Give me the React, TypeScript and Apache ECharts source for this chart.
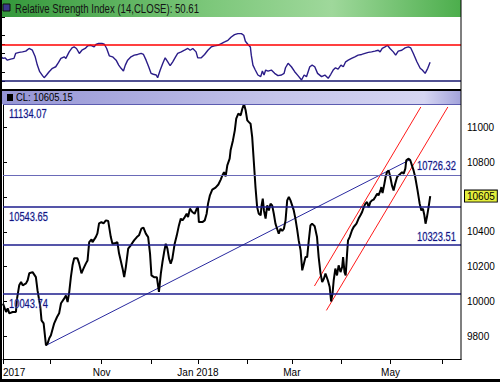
import React, { useEffect, useRef } from 'react';
import * as echarts from 'echarts';

// x positions are trading days counted from 1 Sep 2017
const priceDays = [
  0.0, 1.3, 2.0, 2.7, 4.1, 5.5, 6.0, 6.9, 7.7, 8.4, 9.8, 10.5, 11.2, 12.6, 14.0, 14.7, 15.9, 16.4, 17.3, 18.3,
  19.0, 19.7, 20.4, 21.8, 23.0, 23.9, 24.7, 26.1, 26.8, 27.5, 28.2, 28.9, 29.6, 30.3, 31.7, 32.4, 33.4, 34.3, 35.3, 36.0,
  36.7, 37.7, 38.1, 39.5, 40.2, 40.9, 41.9, 42.8, 43.8, 44.8, 45.9, 46.6, 48.0, 48.7, 49.4, 50.9, 51.6, 52.3, 53.3, 54.4,
  55.8, 57.0, 57.9, 58.9, 59.8, 60.8, 61.8, 62.6, 63.2, 64.3, 65.5, 66.4, 67.2, 67.9, 68.6, 69.3, 70.0, 70.7, 71.4, 72.1,
  73.1, 74.0, 74.9, 75.7, 76.4, 77.4, 78.2, 78.8, 79.6, 80.6, 81.6, 82.5, 83.0, 83.4, 84.9, 85.9, 86.7, 87.3, 88.1, 89.1,
  90.5, 91.7, 92.7, 93.4, 94.1, 94.8, 95.5, 96.5, 96.9, 97.9, 98.7, 99.3, 100.2, 101.2, 101.9, 102.6, 103.3, 104.0, 104.7, 105.4,
  106.1, 106.8, 107.5, 108.2, 108.9, 109.7, 110.1, 110.6, 111.1, 111.8, 112.5, 113.2, 113.9, 114.6, 115.3, 116.0, 116.7, 117.4, 118.2, 118.9,
  119.6, 120.3, 121.0, 121.7, 122.4, 123.1, 123.8, 124.5, 125.3, 125.9, 126.7, 127.4, 128.1, 128.8, 129.5, 130.2, 130.9, 131.6, 132.7, 133.7,
  134.4, 135.2, 135.9, 136.6, 137.3, 138.3, 139.1, 139.7, 140.3, 140.8, 141.5, 142.2, 142.9, 143.7, 144.4, 144.8, 145.4, 145.9, 146.5, 146.9,
  147.6, 148.6, 149.3, 150.5, 151.4, 152.2, 152.9, 153.6, 154.3, 155.0, 155.7, 156.4, 157.1, 157.8, 158.5, 159.3, 159.9, 160.7, 161.1, 161.6,
  162.4, 162.9, 163.5, 164.2, 164.9, 165.6, 166.3, 167.0, 167.8, 168.4, 169.2, 169.9, 170.6, 171.3, 171.7, 172.7, 173.4, 174.1, 174.8, 175.5,
  176.5, 177.4, 178.1, 178.8, 179.4, 179.9, 180.5, 181.2, 181.9,
];
const priceClose = [
  9988, 9940, 9961, 9932, 9940, 9940, 10018, 10093, 10112, 10093, 10104, 10122, 10162, 10169, 10140, 10064, 9968, 9892, 9875, 9748,
  9760, 9789, 9806, 9875, 9911, 9932, 9990, 10018, 10035, 9997, 10054, 10140, 10208, 10248, 10248, 10219, 10162, 10190, 10219, 10236,
  10341, 10357, 10341, 10370, 10391, 10449, 10456, 10449, 10466, 10462, 10370, 10332, 10336, 10341, 10277, 10190, 10140, 10198, 10304, 10323,
  10351, 10370, 10380, 10418, 10424, 10390, 10370, 10275, 10150, 10140, 10140, 10055, 10160, 10227, 10284, 10332, 10304, 10246, 10217, 10246,
  10332, 10380, 10437, 10476, 10466, 10485, 10504, 10485, 10533, 10514, 10504, 10533, 10542, 10456, 10456, 10466, 10504, 10562, 10610, 10642,
  10654, 10672, 10700, 10724, 10743, 10719, 10782, 10820, 10868, 10925, 10983, 11050, 11079, 11069, 11107, 11134.07, 11098, 11040, 11030, 11021,
  10944, 10801, 10657, 10542, 10504, 10495, 10552, 10591, 10523, 10476, 10552, 10523, 10562, 10552, 10504, 10447, 10418, 10390, 10418, 10405,
  10418, 10466, 10581, 10600, 10581, 10552, 10523, 10476, 10409, 10351, 10294, 10179, 10217, 10255, 10255, 10351, 10437, 10447, 10432, 10370,
  10255, 10160, 10112, 10131, 10160, 10122, 10083, 10000, 10045, 10122, 10189, 10150, 10208, 10169, 10198, 10255, 10169, 10150, 10275, 10351,
  10370, 10409, 10428, 10447, 10476, 10495, 10514, 10542, 10562, 10571, 10542, 10571, 10581, 10585, 10600, 10619, 10610, 10638, 10657, 10623,
  10677, 10715, 10743, 10753, 10715, 10667, 10638, 10677, 10715, 10724, 10734, 10743, 10734, 10763, 10811, 10820, 10811, 10782, 10753, 10715,
  10638, 10562, 10523, 10533, 10495, 10447, 10485, 10542, 10605.15,
];

const rsiDays = [
  0.0, 0.9, 1.7, 2.7, 4.1, 5.5, 6.2, 7.7, 9.1, 10.5, 11.9, 13.3, 14.5, 15.4, 16.4, 17.6, 18.3, 19.3, 20.4, 21.8,
  23.2, 24.4, 25.4, 26.8, 27.5, 28.9, 30.1, 31.0, 32.0, 33.2, 34.3, 35.7, 36.7, 38.1, 39.5, 40.2, 41.4, 42.8, 43.8, 44.8,
  45.9, 47.3, 48.8, 49.9, 50.9, 51.9, 52.7, 53.7, 55.1, 56.5, 57.9, 59.4, 60.4, 61.5, 62.6, 63.6, 64.6, 65.8, 66.4, 67.5,
  68.6, 69.6, 70.7, 71.7, 72.8, 74.0, 74.9, 76.4, 77.8, 79.2, 80.2, 81.3, 82.7, 83.4, 84.9, 86.3, 87.7, 89.1, 90.5, 91.9,
  93.4, 94.8, 96.2, 97.6, 99.0, 100.4, 101.9, 102.9, 103.6, 104.7, 105.7, 106.1, 106.8, 107.8, 108.9, 110.1, 110.8, 111.5, 112.2, 113.2,
  114.6, 116.0, 117.4, 118.9, 120.0, 120.6, 121.7, 123.1, 124.5, 125.9, 127.4, 128.5, 129.5, 130.9, 131.9, 133.0, 134.2, 135.9, 137.3, 138.7,
  139.8, 140.8, 141.8, 142.9, 144.1, 145.1, 146.1, 147.2, 148.6, 150.0, 151.4, 152.9, 154.3, 155.7, 157.1, 158.5, 159.9, 160.7, 161.6, 162.8,
  163.8, 164.9, 166.3, 167.3, 168.4, 169.9, 171.3, 172.7, 173.7, 174.8, 176.3, 177.7, 178.6, 179.8, 180.9, 181.9,
];
const rsiValues = [
  56.6, 54.9, 55.5, 53.0, 54.1, 54.9, 60.3, 61.4, 62.0, 62.8, 65.7, 63.8, 56.6, 47.6, 40.4, 36.1, 33.9, 36.8, 40.4, 44.1,
  45.8, 50.5, 54.9, 56.6, 54.9, 62.0, 66.3, 67.4, 65.7, 60.3, 63.8, 65.7, 68.5, 69.2, 67.4, 70.0, 71.1, 71.1, 70.3, 65.7,
  57.7, 56.6, 53.0, 47.6, 44.1, 41.1, 47.6, 53.0, 56.6, 58.4, 59.2, 60.3, 59.2, 53.0, 45.8, 38.6, 37.6, 36.8, 33.9, 42.2,
  49.5, 55.5, 51.2, 46.9, 51.2, 56.6, 60.3, 62.0, 63.8, 65.7, 63.8, 65.7, 62.0, 55.5, 55.5, 59.2, 63.8, 67.4, 68.5, 69.2,
  71.1, 72.8, 74.6, 78.2, 80.8, 81.9, 81.9, 80.1, 73.6, 70.0, 67.4, 58.4, 47.6, 42.2, 36.8, 35.0, 41.1, 36.8, 42.2, 41.1,
  42.2, 38.6, 36.1, 36.8, 38.6, 44.7, 49.5, 45.8, 40.4, 36.1, 31.4, 36.8, 35.0, 45.8, 47.6, 45.8, 38.6, 35.0, 36.8, 33.2,
  37.6, 42.2, 44.7, 43.3, 47.6, 45.8, 51.2, 53.0, 54.9, 56.6, 58.4, 59.2, 60.3, 61.4, 62.0, 62.8, 63.8, 62.0, 65.7, 67.4,
  69.2, 65.7, 62.0, 58.4, 62.8, 63.8, 66.3, 67.4, 66.3, 60.3, 51.2, 44.1, 42.2, 38.6, 44.1, 50.61,
];

const monthTickDays = [0, 20, 42, 63, 83, 104, 123, 144, 165, 187];
const monthLabelDays = [0, 42, 83, 123, 165];
const monthLabels = ['2017', 'Nov', 'Jan 2018', 'Mar', 'May'];
const priceTickValues = [9800, 10000, 10200, 10400, 10600, 10800, 11000];
const priceLabelValues = [9800, 10000, 10200, 10400, 10800, 11000];
const rsiTickValues = [30, 40, 60, 70, 80, 100];
const rsiLevels = [70, 30];
const priceLevels = [11134.07, 10726.32, 10543.65, 10323.51, 10043.74];
const lastClose = 10605.15;
const lastRsi = 50.61;
const trendDays = [18.3, 173.4];
const trendValues = [9748, 10815];
const channelUpperDays = [132.6, 177.9];
const channelUpperValues = [10089, 11117];
const channelLowerDays = [137.7, 189.4];
const channelLowerValues = [9949, 11117];

const zip = (a: number[], b: number[]) => a.map((v, i) => [v, b[i]]);

const FONT = 'Liberation Sans, Arial, sans-serif';

export default function App() {
  const ref = useRef<HTMLDivElement>(null);
  useEffect(() => {
    if (!ref.current) return;
    const chart = echarts.init(ref.current, undefined, { renderer: 'svg' });
    // label side: 'left' = under the line at the left, 'right' = above the line at the right
    const levelLook = [
      { side: 'left', color: '#5c5cb0', width: 1 },
      { side: 'right', color: '#6a6ab8', width: 1 },
      { side: 'left', color: '#1c1c8c', width: 1.5 },
      { side: 'right', color: '#1c1c8c', width: 1.5 },
      { side: 'left', color: '#1c1c8c', width: 1.5 },
    ];
    const levelData: any[] = priceLevels.map((v, i) => ({
      yAxis: v,
      lineStyle: { color: levelLook[i].color, width: levelLook[i].width, type: 'solid' },
      label: { show: false },
    }));
    levelData.push({
      yAxis: lastClose,
      lineStyle: { color: 'rgba(0,0,0,0)', width: 0 },
      label: {
        show: true,
        position: 'end',
        formatter: String(Math.round(lastClose)),
        distance: 4,
        color: '#000',
        fontSize: 10,
        fontFamily: FONT,
        backgroundColor: '#e4ee3c',
        borderColor: '#000',
        borderWidth: 1,
        padding: [1, 2, 0, 2],
      },
    });

    const baseGraphics: any[] = [
      {
        type: 'rect', shape: { x: 0, y: 0, width: 461, height: 17 }, z: 10,
        style: {
          fill: new echarts.graphic.LinearGradient(0, 0, 1, 0, [
            { offset: 0, color: '#33973a' },
            { offset: 0.45, color: '#7cc77a' },
            { offset: 0.72, color: '#9fd89b' },
            { offset: 1, color: '#4cae4c' },
          ]),
        },
      },
      {
        type: 'rect', shape: { x: 3, y: 4, width: 7, height: 7 }, z: 11,
        style: { fill: '#3a3a8c', stroke: '#111', lineWidth: 1 },
      },
      {
        type: 'text', x: 15, y: 9, scaleX: 0.8, z: 11,
        style: {
          text: `Relative Strength Index (14,CLOSE): ${lastRsi.toFixed(2)}`,
          fill: '#141414', font: `12px ${FONT}`, textVerticalAlign: 'middle',
        },
      },
      { type: 'rect', shape: { x: 0, y: 89, width: 461, height: 2 }, z: 10, style: { fill: '#000' } },
      {
        type: 'rect', shape: { x: 0, y: 91, width: 461, height: 13 }, z: 10,
        style: {
          fill: new echarts.graphic.LinearGradient(0, 0, 1, 0, [
            { offset: 0, color: '#9494d4' },
            { offset: 0.6, color: '#c4c4ea' },
            { offset: 0.92, color: '#d6d6f2' },
            { offset: 1, color: '#a2a2da' },
          ]),
        },
      },
      { type: 'rect', shape: { x: 7, y: 94, width: 6, height: 7 }, z: 11, style: { fill: '#000' } },
      {
        type: 'text', x: 16, y: 97.5, scaleX: 0.86, z: 11,
        style: {
          text: `CL: ${lastClose.toFixed(2)}`,
          fill: '#000', font: `11px ${FONT}`, textVerticalAlign: 'middle',
        },
      },
      { type: 'rect', shape: { x: 0, y: 0, width: 2, height: 382 }, z: 12, style: { fill: '#000' } },
      { type: 'rect', shape: { x: 460.5, y: 0, width: 1, height: 360 }, z: 12, style: { fill: '#000' } },
      { type: 'rect', shape: { x: 0, y: 379, width: 500, height: 3 }, z: 12, style: { fill: '#000' } },
    ];

    const option: any = {
      animation: false,
      backgroundColor: '#ffffff',
      grid: [
        { left: 1, top: 17, width: 460, height: 67, containLabel: false },
        { left: 1, top: 104, width: 460, height: 255, containLabel: false },
      ],
      xAxis: [
        {
          type: 'value', gridIndex: 0, min: 0, max: 195,
          axisLine: { show: false }, axisTick: { show: false }, axisLabel: { show: false }, splitLine: { show: false },
        },
        {
          type: 'value', gridIndex: 1, min: 0, max: 195,
          axisLine: { show: true, onZero: false, lineStyle: { color: '#000', width: 1 } },
          axisTick: { show: true, customValues: monthTickDays, length: 5, inside: false, lineStyle: { color: '#000' } },
          axisLabel: {
            show: true,
            customValues: monthLabelDays,
            formatter: (val: number) => {
              const i = monthLabelDays.indexOf(val);
              return i >= 0 ? monthLabels[i] : '';
            },
            alignMinLabel: 'left',
            color: '#000',
            fontSize: 10,
            fontFamily: FONT,
            margin: 8,
          },
          splitLine: { show: false },
        },
      ],
      yAxis: [
        {
          type: 'value', gridIndex: 0, position: 'right', min: 27, max: 100,
          axisLine: { show: true, lineStyle: { color: '#000' } },
          axisTick: { show: true, customValues: rsiTickValues, length: 4, lineStyle: { color: '#000' } },
          axisLabel: { show: false },
          splitLine: { show: false },
        },
        {
          type: 'value', gridIndex: 1, position: 'right', min: 9670, max: 11134.07,
          axisLine: { show: true, lineStyle: { color: '#000' } },
          axisTick: { show: true, customValues: priceTickValues, length: 4, lineStyle: { color: '#000' } },
          axisLabel: {
            show: true, customValues: priceLabelValues, color: '#000', fontSize: 10, fontFamily: FONT, margin: 6,
            formatter: (v: number) => String(v),
          },
          splitLine: { show: false },
        },
      ],
      series: [
        {
          type: 'line', xAxisIndex: 0, yAxisIndex: 0, data: zip(rsiDays, rsiValues),
          showSymbol: false, symbol: 'none', lineStyle: { color: '#2a1c88', width: 1.4 }, z: 3,
          markLine: {
            silent: true, symbol: ['none', 'none'], animation: false, label: { show: false },
            data: rsiLevels.map((v, i) => ({
              yAxis: v, lineStyle: { color: i === 0 ? '#ff0000' : '#16166e', width: 1.5, type: 'solid' },
            })),
          },
        },
        {
          type: 'line', xAxisIndex: 1, yAxisIndex: 1, data: zip(trendDays, trendValues),
          showSymbol: false, symbol: 'none', lineStyle: { color: '#2a2aa0', width: 1 }, z: 2,
        },
        {
          type: 'line', xAxisIndex: 1, yAxisIndex: 1, data: zip(channelUpperDays, channelUpperValues),
          showSymbol: false, symbol: 'none', lineStyle: { color: '#ff1a1a', width: 1 }, z: 2,
        },
        {
          type: 'line', xAxisIndex: 1, yAxisIndex: 1, data: zip(channelLowerDays, channelLowerValues),
          showSymbol: false, symbol: 'none', lineStyle: { color: '#ff1a1a', width: 1 }, z: 2,
        },
        {
          type: 'line', xAxisIndex: 1, yAxisIndex: 1, data: zip(priceDays, priceClose),
          showSymbol: false, symbol: 'none', lineStyle: { color: '#000', width: 2 }, z: 4,
          markLine: {
            silent: true, symbol: ['none', 'none'], animation: false, precision: 2,
            data: levelData,
          },
        },
      ],
      graphic: { elements: baseGraphics },
    };
    chart.setOption(option);

    // level value labels, placed through the price axis scale
    const plotLeft = chart.convertToPixel({ xAxisIndex: 1 }, 0) as number;
    const plotRight = chart.convertToPixel({ xAxisIndex: 1 }, 195) as number;
    const labelGraphics = priceLevels.map((v, i) => {
      const y = chart.convertToPixel({ yAxisIndex: 1 }, v) as number;
      const left = levelLook[i].side === 'left';
      return {
        type: 'text',
        x: left ? plotLeft + 6 : plotRight - 5,
        y: left ? y + 3.5 : y - 3,
        scaleX: 0.78,
        z: 13,
        style: {
          text: v.toFixed(2),
          fill: '#12127a',
          font: `12px ${FONT}`,
          textAlign: left ? 'left' : 'right',
          textVerticalAlign: left ? 'top' : 'bottom',
          stroke: 'rgba(140,160,240,0.45)',
          lineWidth: 1,
        },
      };
    });
    chart.setOption({ graphic: { elements: [...baseGraphics, ...labelGraphics] } });
    return () => chart.dispose();
  }, []);
  return (
    <div
      ref={ref}
      style={{ position: 'fixed', left: 0, top: 0, width: 500, height: 382, background: '#fff' }}
    />
  );
}
